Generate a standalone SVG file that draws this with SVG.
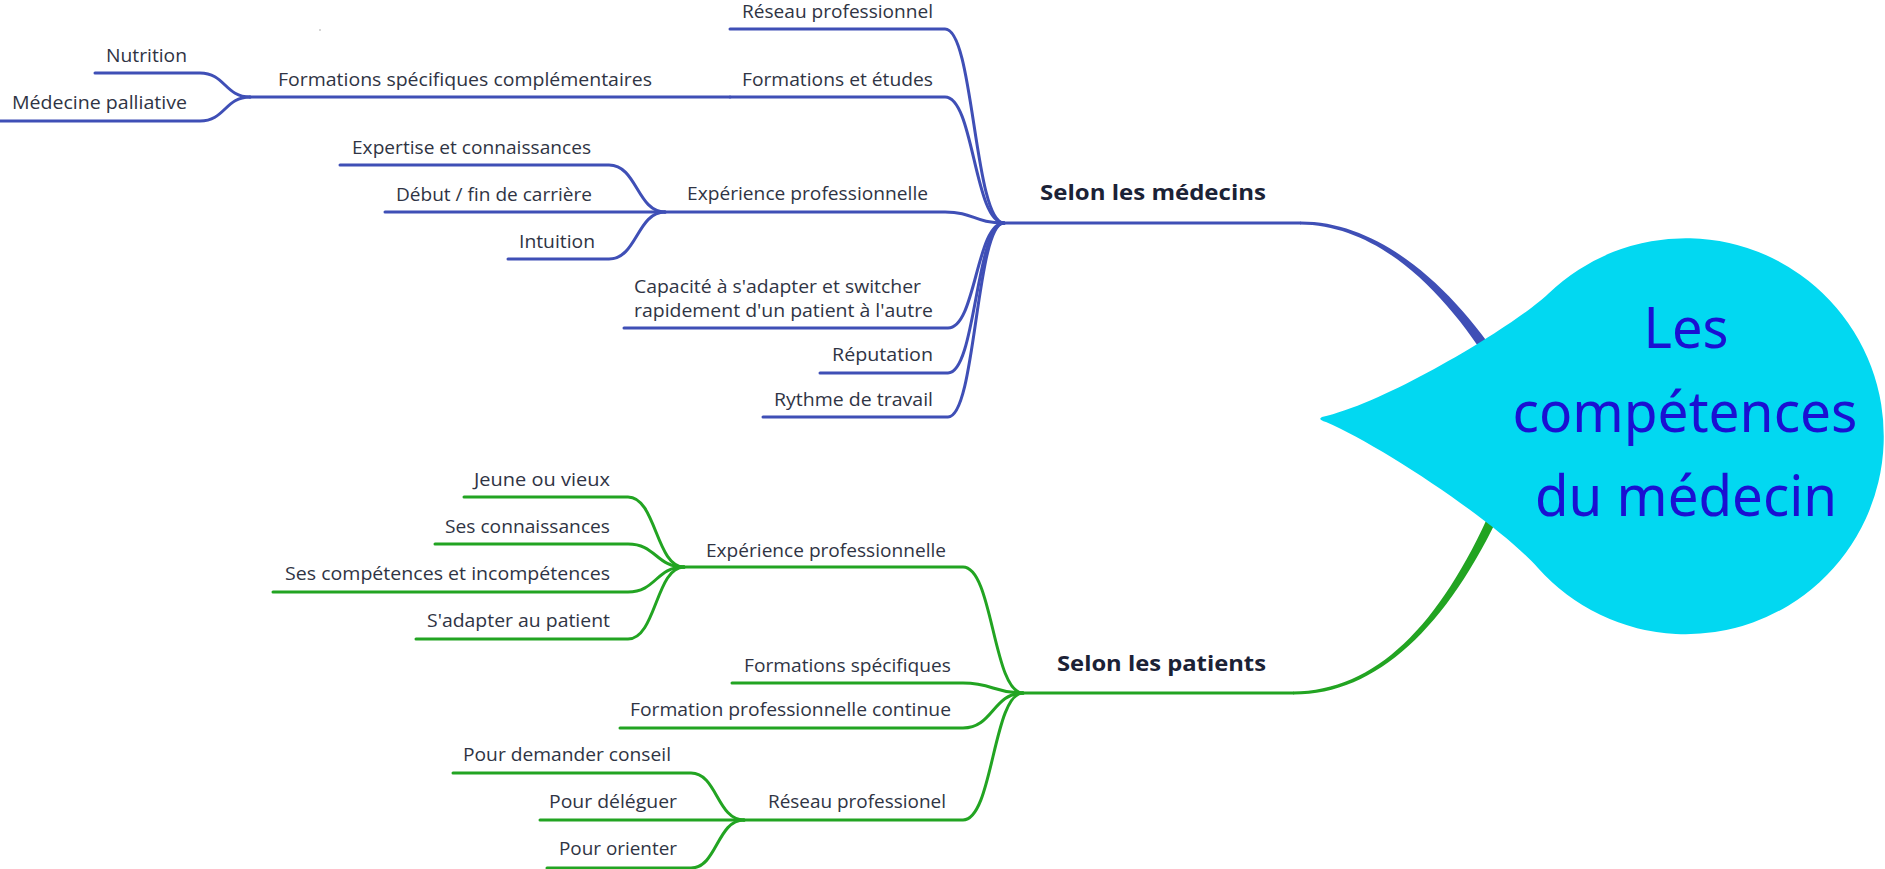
<svg xmlns="http://www.w3.org/2000/svg" width="1885" height="869" viewBox="0 0 1885 869">
<style>
.lbl{font-family:"Open Sans","Noto Sans","Liberation Sans",sans-serif;font-size:19px;fill:#2f3444;text-anchor:end}
.main{font-family:"Open Sans","Noto Sans","Liberation Sans",sans-serif;font-size:22px;font-weight:bold;fill:#1b2236}
.root{font-family:"Noto Sans","Open Sans","Liberation Sans",sans-serif;font-size:56px;fill:#1a10d2;text-anchor:middle}
.b{fill:none;stroke:#3f4fb6;stroke-width:3;stroke-linecap:round}
.g{fill:none;stroke:#22a422;stroke-width:3;stroke-linecap:round}
</style>
<rect width="1885" height="869" fill="#ffffff"/>
<circle cx="320" cy="30" r="1" fill="#c8c8c8"/>
<g id="connectors">
  <path class="b" d="M730,29 H945 C974,29 974,223 1004,223"/>
  <path class="b" d="M730,97 H945 C974,97 974,223 1004,223"/>
  <path class="b" d="M665,212 H945 C974,212 974,223 1004,223"/>
  <path class="b" d="M624,328 H948 C976,328 976,223 1004,223"/>
  <path class="b" d="M820,373 H948 C976,373 976,223 1004,223"/>
  <path class="b" d="M763,417 H948 C976,417 976,223 1004,223"/>
  <path class="b" d="M1004,223 H1300"/>
  <path class="b" d="M250,97 H730"/>
  <path class="b" d="M95,73 H200 C225,73 225,97 250,97"/>
  <path class="b" d="M0,121 H200 C225,121 225,97 250,97"/>
  <path class="b" d="M340,165 H609 C637,165 637,212 665,212"/>
  <path class="b" d="M385,212 H665"/>
  <path class="b" d="M508,259 H609 C637,259 637,212 665,212"/>
  <path fill="#3f4fb6" d="M1300,221.5 C1380,221 1453.5,287.5 1504.5,367 L1495.5,373 C1446.5,292.5 1380,225 1300,224.5 Z"/>
  <path class="g" d="M684,567 H963 C993,567 993,693 1023,693"/>
  <path class="g" d="M732,683 H963 C993,683 993,693 1023,693"/>
  <path class="g" d="M620,728 H963 C993,728 993,693 1023,693"/>
  <path class="g" d="M744,820 H963 C993,820 993,693 1023,693"/>
  <path class="g" d="M1023,693 H1293"/>
  <path class="g" d="M464,497 H628 C656,497 656,567 684,567"/>
  <path class="g" d="M435,544 H628 C656,544 656,567 684,567"/>
  <path class="g" d="M273,592 H628 C656,592 656,567 684,567"/>
  <path class="g" d="M416,639 H628 C656,639 656,567 684,567"/>
  <path class="g" d="M453,773 H691 C717,773 717,820 744,820"/>
  <path class="g" d="M540,820 H744"/>
  <path class="g" d="M547,868 H691 C717,868 717,820 744,820"/>
  <path fill="#22a422" d="M1293,691.5 C1380,691 1447,618.2 1500.4,488 L1509.6,492 C1453,621.8 1380,695 1293,694.5 Z"/>
</g>
<g id="root">
  <path fill="#02d8f1" d="M1322,417 C1390,402 1519.3,321.9 1548,294 A198,198 0 1,1 1538,568 C1498,523 1380,445 1326,422 Q1317,419.5 1322,417 Z"/>
  <text class="root" x="1686" y="348" textLength="85" lengthAdjust="spacingAndGlyphs">Les</text>
  <text class="root" x="1685" y="432" textLength="345" lengthAdjust="spacingAndGlyphs">compétences</text>
  <text class="root" x="1686" y="516" textLength="302" lengthAdjust="spacingAndGlyphs">du médecin</text>
</g>
<g id="n-medecins"><text class="main" x="1040" y="200" textLength="226" lengthAdjust="spacingAndGlyphs">Selon les médecins</text></g>
<g id="n-patients"><text class="main" x="1057" y="671" textLength="209" lengthAdjust="spacingAndGlyphs">Selon les patients</text></g>
<g id="n-reseau-m"><text class="lbl" x="933" y="18" textLength="191" lengthAdjust="spacingAndGlyphs">Réseau professionnel</text></g>
<g id="n-formations-m"><text class="lbl" x="933" y="86" textLength="191" lengthAdjust="spacingAndGlyphs">Formations et études</text></g>
<g id="n-fsc"><text class="lbl" x="652" y="86" textLength="374" lengthAdjust="spacingAndGlyphs">Formations spécifiques complémentaires</text></g>
<g id="n-nutrition"><text class="lbl" x="187" y="62" textLength="81" lengthAdjust="spacingAndGlyphs">Nutrition</text></g>
<g id="n-palliative"><text class="lbl" x="187" y="109" textLength="175" lengthAdjust="spacingAndGlyphs">Médecine palliative</text></g>
<g id="n-experience-m"><text class="lbl" x="928" y="200" textLength="241" lengthAdjust="spacingAndGlyphs">Expérience professionnelle</text></g>
<g id="n-expertise"><text class="lbl" x="591" y="154" textLength="239" lengthAdjust="spacingAndGlyphs">Expertise et connaissances</text></g>
<g id="n-debut"><text class="lbl" x="592" y="201" textLength="196" lengthAdjust="spacingAndGlyphs">Début / fin de carrière</text></g>
<g id="n-intuition"><text class="lbl" x="595" y="248" textLength="76" lengthAdjust="spacingAndGlyphs">Intuition</text></g>
<g id="n-capacite">
  <text class="lbl" x="921" y="293" textLength="287" lengthAdjust="spacingAndGlyphs">Capacité à s'adapter et switcher</text>
  <text class="lbl" x="933" y="317" textLength="299" lengthAdjust="spacingAndGlyphs">rapidement d'un patient à l'autre</text>
</g>
<g id="n-reputation"><text class="lbl" x="933" y="361" textLength="101" lengthAdjust="spacingAndGlyphs">Réputation</text></g>
<g id="n-rythme"><text class="lbl" x="933" y="406" textLength="159" lengthAdjust="spacingAndGlyphs">Rythme de travail</text></g>
<g id="n-experience-p"><text class="lbl" x="946" y="557" textLength="240" lengthAdjust="spacingAndGlyphs">Expérience professionnelle</text></g>
<g id="n-jeune"><text class="lbl" x="610" y="486" textLength="136" lengthAdjust="spacingAndGlyphs">Jeune ou vieux</text></g>
<g id="n-sesconn"><text class="lbl" x="610" y="533" textLength="165" lengthAdjust="spacingAndGlyphs">Ses connaissances</text></g>
<g id="n-sescomp"><text class="lbl" x="610" y="580" textLength="325" lengthAdjust="spacingAndGlyphs">Ses compétences et incompétences</text></g>
<g id="n-sadapter"><text class="lbl" x="610" y="627" textLength="183" lengthAdjust="spacingAndGlyphs">S'adapter au patient</text></g>
<g id="n-formspec"><text class="lbl" x="951" y="672" textLength="207" lengthAdjust="spacingAndGlyphs">Formations spécifiques</text></g>
<g id="n-fpc"><text class="lbl" x="951" y="716" textLength="321" lengthAdjust="spacingAndGlyphs">Formation professionnelle continue</text></g>
<g id="n-reseau-p"><text class="lbl" x="946" y="808" textLength="178" lengthAdjust="spacingAndGlyphs">Réseau professionel</text></g>
<g id="n-conseil"><text class="lbl" x="671" y="761" textLength="208" lengthAdjust="spacingAndGlyphs">Pour demander conseil</text></g>
<g id="n-deleguer"><text class="lbl" x="677" y="808" textLength="128" lengthAdjust="spacingAndGlyphs">Pour déléguer</text></g>
<g id="n-orienter"><text class="lbl" x="677" y="855" textLength="118" lengthAdjust="spacingAndGlyphs">Pour orienter</text></g>
</svg>
